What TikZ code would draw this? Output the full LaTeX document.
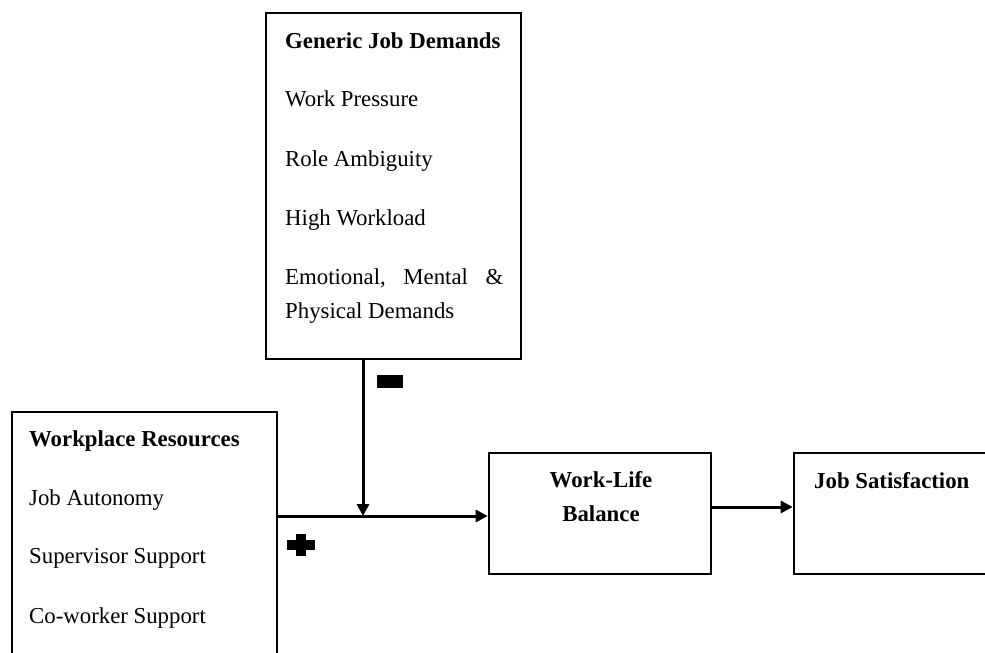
\documentclass[tikz,border=0pt]{standalone}
\usepackage{fontspec}
\setmainfont{Liberation Serif}
\usetikzlibrary{arrows.meta}
\tikzset{
  box/.style={draw=black,line width=2.6pt,fill=none,inner sep=0pt},
  txt/.style={anchor=base west,inner sep=0pt,font=\fontsize{22.8}{27}\selectfont},
  btxt/.style={txt,font=\fontsize{22.8}{27}\selectfont\bfseries},
  link/.style={line width=3pt,-{Triangle[length=12pt,width=12pt]}},
  sign/.style={fill=black,draw=none,inner sep=0pt}
}
\begin{document}
\begin{tikzpicture}[x=1pt,y=-1pt]
\useasboundingbox (0,0) rectangle (985,653);
\clip (0,0) rectangle (985,653);
% boxes
\node[box,minimum width=255pt,minimum height=346pt] (GJD) at (393.5,186) {};
\node[box,minimum width=265pt,minimum height=290pt] (WR) at (144.5,557) {};
\node[box,minimum width=222pt,minimum height=121pt] (WLB) at (600,513.5) {};
\node[box,minimum width=210pt,minimum height=121pt] (JS) at (899,513.5) {};
% texts in Generic Job Demands
\node[btxt] (g0) at (285,48) {Generic Job Demands};
\node[txt] (g1) at (285,106) {Work Pressure};
\node[txt] (g2) at (285,166) {Role Ambiguity};
\node[txt] (g3) at (285,225) {High Workload};
\node[txt] (g4) at (285,284) {\makebox[218pt][s]{Emotional,\hfill Mental\hfill \&}};
\node[txt] (g5) at (285,318) {Physical Demands};
% texts in Workplace Resources
\node[btxt] (w0) at (29,446) {Workplace Resources};
\node[txt] (w1) at (29,505) {Job Autonomy};
\node[txt] (w2) at (29,563) {Supervisor Support};
\node[txt] (w3) at (29,623) {Co-worker Support};
% Work-Life Balance
\node[btxt,anchor=base] (b1) at (601,487) {Work-Life};
\node[btxt,anchor=base] (b2) at (601,521) {Balance};
% Job Satisfaction
\node[btxt] (j1) at (814,488) {Job Satisfaction};
% connectors
\coordinate (jn) at (363,516);
\draw[link] (WR.east |- jn) -- (WLB.west |- jn);
\draw[link] (GJD.south -| jn) -- (jn);
\coordinate (ja) at (711,507);
\draw[link] (WLB.east |- ja) -- (JS.west |- ja);
% signs
\node[sign,minimum width=26pt,minimum height=13pt] (minus) at (390,381.5) {};
\node[sign,minimum width=28pt,minimum height=10pt] (plush) at (301,545) {};
\node[sign,minimum width=10pt,minimum height=22pt] (plusv) at (301,545) {};
\end{tikzpicture}
\end{document}
